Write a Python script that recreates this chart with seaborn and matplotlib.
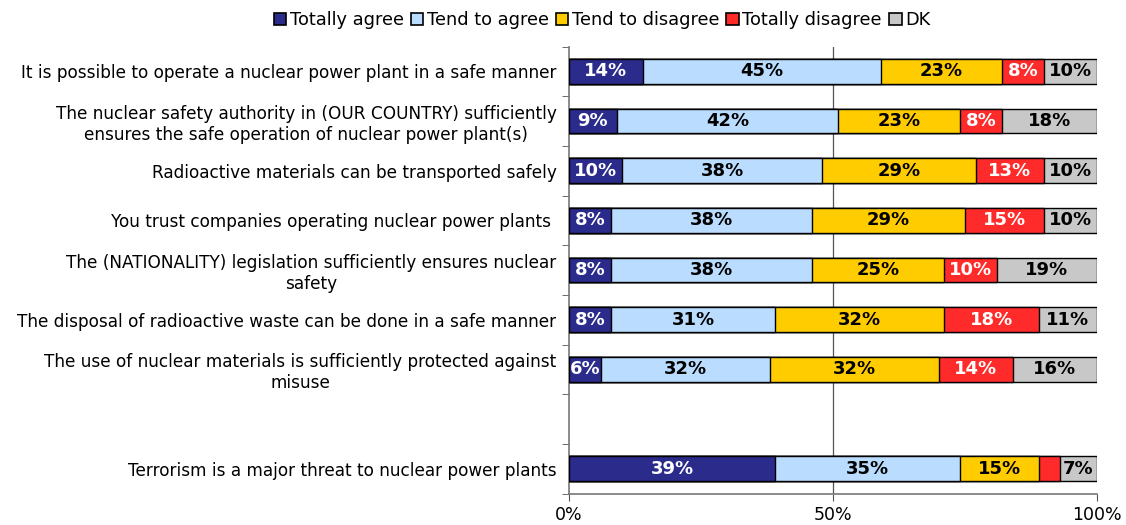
import matplotlib
matplotlib.use("Agg")
import matplotlib.pyplot as plt
import seaborn as sns
import numpy as np
import pandas as pd
from matplotlib.patches import Patch

categories = [
    "It is possible to operate a nuclear power plant in a safe manner",
    "The nuclear safety authority in (OUR COUNTRY) sufficiently\nensures the safe operation of nuclear power plant(s)",
    "Radioactive materials can be transported safely",
    "You trust companies operating nuclear power plants ",
    "The (NATIONALITY) legislation sufficiently ensures nuclear\nsafety",
    "The disposal of radioactive waste can be done in a safe manner",
    "The use of nuclear materials is sufficiently protected against\nmisuse",
    " ",
    "Terrorism is a major threat to nuclear power plants",
]
series = ["Totally agree", "Tend to agree", "Tend to disagree", "Totally disagree", "DK"]
totally_agree = [14, 9, 10, 8, 8, 8, 6, None, 39]
tend_agree = [45, 42, 38, 38, 38, 31, 32, None, 35]
tend_disagree = [23, 23, 29, 29, 25, 32, 32, None, 15]
totally_disagree = [8, 8, 13, 15, 10, 18, 14, None, 4]
dk = [10, 18, 10, 10, 19, 11, 16, None, 7]
show_label = [[True] * 5] * 7 + [[False] * 5] + [[True, True, True, False, True]]

colors = ["#2B2B8C", "#B9DCFF", "#FFCC00", "#FF2B2B", "#C8C8C8"]
text_colors = ["white", "black", "black", "white", "black"]

plt.rcParams["font.family"] = ["DejaVu Sans"]
fig = plt.figure(figsize=(11.26, 5.25), dpi=100)
top_px, bot_px = 46.5, 493.5
ax = fig.add_axes([569 / 1126, 1 - bot_px / 525, (1097 - 569) / 1126, (bot_px - top_px) / 525])

vals = np.array([[np.nan if v is None else v for v in s]
                 for s in [totally_agree, tend_agree, tend_disagree, totally_disagree, dk]], dtype=float)
cum = np.nancumsum(vals, axis=0)
valid = ~np.isnan(vals[0])

for i in range(4, -1, -1):
    df = pd.DataFrame({"cat": [c for c, v in zip(categories, valid) if v],
                       "val": cum[i][valid]})
    sns.barplot(data=df, x="val", y="cat", order=categories, orient="h",
                color=colors[i], saturation=1, width=0.49, edgecolor="black",
                linewidth=1.0, ax=ax, zorder=3)

ax.axvline(50, color="#555555", linewidth=0.9, zorder=1)

for j, cat in enumerate(categories):
    if not valid[j]:
        continue
    left = 0
    for i in range(5):
        v = vals[i][j]
        if show_label[j][i]:
            ax.text(left + v / 2, j, f"{int(v)}%", ha="center", va="center",
                    fontsize=13, fontweight="bold", color=text_colors[i], zorder=5)
        left += v

ax.set_xlim(0, 100)
ax.set_ylim(len(categories) - 0.5, -0.5)
ax.set_xticks([0, 50, 100])
ax.set_xticklabels(["0%", "50%", "100%"], fontsize=12.5)
ax.set_yticks(range(len(categories)))
ax.set_yticklabels(categories, fontsize=12.2, multialignment="center")
ax.set_yticks(np.arange(-0.5, len(categories), 1), minor=True)
ax.tick_params(axis="y", which="major", length=0, pad=9)
ax.tick_params(axis="y", which="minor", length=5, color="#555555")
ax.tick_params(axis="x", which="major", length=5, color="#555555", pad=4)
ax.set_xlabel("")
ax.set_ylabel("")
for s in ["top", "right"]:
    ax.spines[s].set_visible(False)
for s in ["left", "bottom"]:
    ax.spines[s].set_color("#777777")
    ax.spines[s].set_linewidth(1.2)
ax.set_facecolor("white")

handles = [Patch(facecolor=c, edgecolor="black", linewidth=1.2) for c in colors]
fig.legend(handles, series, loc="center", bbox_to_anchor=(602 / 1126, 1 - 20 / 525),
           ncol=5, frameon=False, fontsize=12.8, handlelength=0.7, handleheight=0.7,
           handletextpad=0.2, columnspacing=0.4)

fig.savefig("out.png", dpi=100)
